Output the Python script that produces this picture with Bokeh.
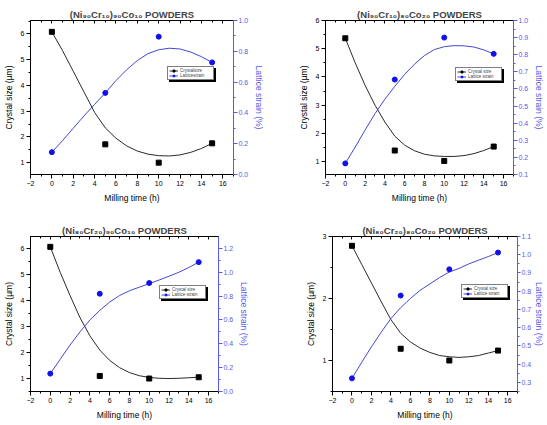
from bokeh.plotting import figure
from bokeh.models import (Range1d, LinearAxis, SingleIntervalTicker, Legend, LegendItem,
                          PrintfTickFormatter, CustomJSTickFormatter)
from bokeh.layouts import column, row
from bokeh.embed import file_html
from bokeh.resources import INLINE

# ---------------- data ----------------
milling_time = [0, 5, 10, 15]
fit_time = [0, 1, 2, 3, 4, 5, 6, 7, 8, 9, 10, 11, 12, 13, 14, 15]

titles = ["(Ni₉₀Cr₁₀)₉₀Co₁₀ POWDERS", "(Ni₉₀Cr₁₀)₈₀Co₂₀ POWDERS",
          "(Ni₈₀Cr₂₀)₉₀Co₁₀ POWDERS", "(Ni₈₀Cr₂₀)₈₀Co₂₀ POWDERS"]

size_1 = [6.08, 1.71, 1.00, 1.75]
strain_1 = [0.145, 0.53, 0.895, 0.728]
size_2 = [5.37, 1.39, 1.02, 1.53]
strain_2 = [0.165, 0.655, 0.90, 0.805]
size_3 = [6.08, 1.10, 1.00, 1.05]
strain_3 = [0.15, 0.82, 0.91, 1.085]
size_4 = [2.85, 1.19, 1.00, 1.16]
strain_4 = [0.322, 0.776, 0.92, 1.012]

# smoothed curves
fit_size_1 = [6.08, 5.35, 4.55, 3.75, 2.95, 2.35, 1.95, 1.65, 1.45, 1.33, 1.27, 1.26, 1.30, 1.40, 1.55, 1.75]
fit_strain_1 = [0.145, 0.22, 0.30, 0.38, 0.455, 0.53, 0.61, 0.68, 0.74, 0.785, 0.81, 0.82, 0.815, 0.795, 0.765, 0.728]
fit_size_2 = [5.37, 4.50, 3.70, 3.00, 2.40, 1.90, 1.58, 1.38, 1.26, 1.20, 1.18, 1.18, 1.21, 1.28, 1.39, 1.53]
fit_strain_2 = [0.165, 0.26, 0.36, 0.455, 0.54, 0.615, 0.685, 0.745, 0.795, 0.83, 0.847, 0.853, 0.852, 0.845, 0.828, 0.805]
fit_size_3 = [6.08, 5.10, 4.20, 3.35, 2.65, 2.10, 1.70, 1.42, 1.23, 1.11, 1.04, 1.01, 1.00, 1.01, 1.03, 1.05]
fit_strain_3 = [0.15, 0.27, 0.39, 0.50, 0.60, 0.68, 0.75, 0.805, 0.845, 0.875, 0.905, 0.935, 0.967, 1.00, 1.04, 1.085]
fit_size_4 = [2.85, 2.55, 2.25, 1.95, 1.66, 1.44, 1.30, 1.20, 1.13, 1.08, 1.06, 1.05, 1.06, 1.08, 1.12, 1.16]
fit_strain_4 = [0.322, 0.41, 0.495, 0.575, 0.65, 0.71, 0.76, 0.805, 0.84, 0.875, 0.905, 0.925, 0.95, 0.97, 0.99, 1.012]

legend_labels_1 = ["Crystalsize", "Latticestrain"]
legend_labels = ["Crystal size", "Lattice strain"]

# ---------------- style ----------------
FONT = "Liberation Sans"
BLUE_PTS = "#1010ee"
BLUE_LINE = "#4646d2"
BLUE_AXIS = "#5a5ae8"
BLACK_LINE = "#2a2a2a"


def style_axis(ax, color="black"):
    ax.axis_line_color = color
    ax.major_tick_line_color = color
    ax.minor_tick_line_color = color
    ax.major_label_text_color = color
    ax.axis_label_text_color = color
    ax.major_tick_out = 4
    ax.major_tick_in = 0
    ax.minor_tick_out = 2
    ax.minor_tick_in = 0
    ax.major_label_text_font = FONT
    ax.major_label_text_font_size = "7px"
    ax.axis_label_text_font = FONT
    ax.axis_label_text_font_size = "8.5px"
    ax.axis_label_text_font_style = "normal"
    ax.major_label_standoff = 2
    ax.axis_label_standoff = 4


def style_legend(leg):
    leg.label_text_font = FONT
    leg.label_text_font_size = "4.5px"
    leg.label_height = 5
    leg.label_width = 32
    leg.glyph_height = 5
    leg.glyph_width = 9
    leg.label_standoff = 2
    leg.padding = 1
    leg.spacing = 0
    leg.margin = 0
    leg.border_line_color = "black"
    leg.border_line_width = 0.8
    leg.background_fill_alpha = 1.0


def panel(title, size, strain, fsize, fstrain, w, h, borders, yl, yl_int, yr, yr_int,
          leg_xy, labels, tight_right=False):
    bl, br, bt, bb = borders
    p = figure(width=w, height=h, output_backend="svg", toolbar_location=None,
               x_range=Range1d(-2, 17), y_range=Range1d(*yl),
               min_border_left=bl, min_border_right=br, min_border_top=bt, min_border_bottom=bb)
    p.grid.visible = False
    p.outline_line_color = "black"
    p.background_fill_color = "white"
    p.border_fill_color = "white"

    p.title.text = title
    p.title.align = "center"
    p.title.offset = 17
    p.title.text_font = FONT
    p.title.text_font_size = "9.5px"
    p.title.text_font_style = "bold"
    p.title.standoff = 2

    xa = p.xaxis[0]
    xa.ticker = SingleIntervalTicker(interval=2, num_minor_ticks=2)
    xa.axis_label = "Milling time (h)"
    style_axis(xa)

    ya = p.yaxis[0]
    ya.ticker = SingleIntervalTicker(interval=yl_int, num_minor_ticks=2)
    ya.formatter = PrintfTickFormatter(format="%d")
    ya.axis_label = "Crystal size (µm)"
    style_axis(ya)

    top = LinearAxis(ticker=SingleIntervalTicker(interval=2, num_minor_ticks=2),
                     formatter=CustomJSTickFormatter(code="return ''"))
    style_axis(top)
    top.major_tick_out = 0
    top.major_tick_in = 3
    top.minor_tick_out = 0
    top.minor_tick_in = 2
    top.major_label_standoff = 0
    p.add_layout(top, "above")

    p.extra_y_ranges = {"strain": Range1d(*yr)}
    ra = LinearAxis(y_range_name="strain",
                    ticker=SingleIntervalTicker(interval=yr_int, num_minor_ticks=2),
                    formatter=PrintfTickFormatter(format="%.1f"),
                    axis_label="Lattice strain (%)")
    style_axis(ra, BLUE_AXIS)
    ra.major_label_standoff = 1
    ra.axis_label_standoff = 3
    if tight_right:
        ra.major_tick_out = 3
        ra.minor_tick_out = 2
        ra.major_label_standoff = 1
        ra.axis_label_standoff = 0
    p.add_layout(ra, "right")

    l1 = p.line(fit_time, fsize, color=BLACK_LINE, line_width=1)
    s1 = p.scatter(milling_time, size, marker="square", size=5, color="black")
    l2 = p.line(fit_time, fstrain, y_range_name="strain", color=BLUE_LINE, line_width=1)
    s2 = p.scatter(milling_time, strain, y_range_name="strain", marker="circle",
                   size=5, color=BLUE_PTS)

    lx, ly = leg_xy
    # drop shadow: an identical, black, empty box offset down-right
    shadow = Legend(items=[LegendItem(label=" ", renderers=[l1]),
                           LegendItem(label=" ", renderers=[l2])],
                    location=(lx + 2, ly - 2), orientation="vertical")
    style_legend(shadow)
    shadow.background_fill_color = "black"
    shadow.label_text_color = "black"
    p.add_layout(shadow, "center")

    leg = Legend(items=[LegendItem(label=labels[0], renderers=[l1, s1]),
                        LegendItem(label=labels[1], renderers=[l2, s2])],
                 location=(lx, ly), orientation="vertical")
    style_legend(leg)
    leg.background_fill_color = "white"
    p.add_layout(leg, "center")
    return p


p1 = panel(titles[0], size_1, strain_1, fit_size_1, fit_strain_1, 273, 212,
           (29, 40, 20, 38), (0.54, 6.52), 1, (0.0, 1.0), 0.2, (137, 94), legend_labels_1)
p2 = panel(titles[1], size_2, strain_2, fit_size_2, fit_strain_2, 274, 212,
           (52, 28, 19, 38), (0.54, 6.0), 1, (0.1, 1.0), 0.1, (130, 93), legend_labels)
p3 = panel(titles[2], size_3, strain_3, fit_size_3, fit_strain_3, 273, 213,
           (25, 55, 24, 34), (0.5, 6.48), 1, (0.0, 1.3), 0.2, (129, 92), legend_labels)
p4 = panel(titles[3], size_4, strain_4, fit_size_4, fit_strain_4, 274, 213,
           (59, 22, 24, 34), (0.5, 3.0), 1, (0.25, 1.1), 0.1, (129, 93), legend_labels,
           tight_right=True)

page = column(row(p1, p2), row(p3, p4))
open("out.html", "w").write(file_html(page, INLINE))
